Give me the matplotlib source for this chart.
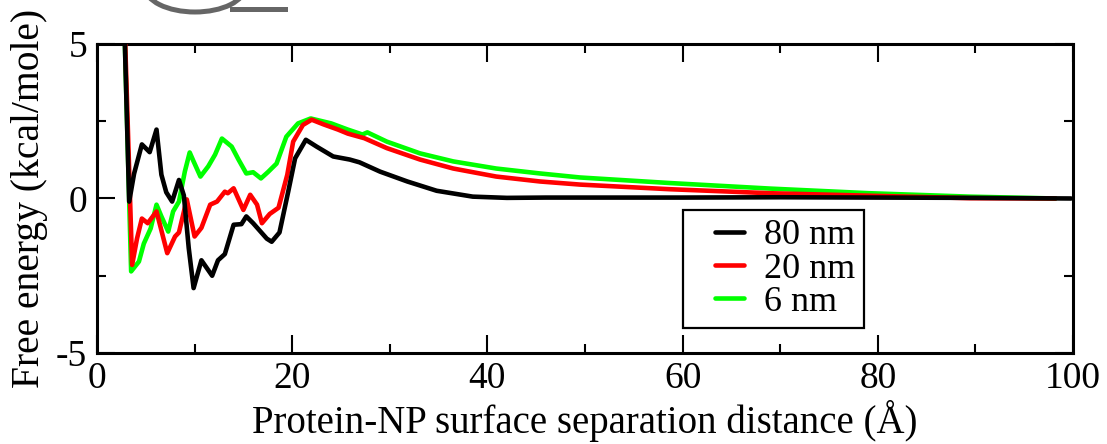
import numpy as np
import matplotlib
matplotlib.use("Agg")
import matplotlib.pyplot as plt
from matplotlib.patches import Arc
from matplotlib.lines import Line2D
from matplotlib.legend_handler import HandlerLine2D
from matplotlib.ticker import MultipleLocator

plt.rcParams['font.family'] = ['Liberation Serif', 'DejaVu Serif']
plt.rcParams['axes.unicode_minus'] = False

# free energy profiles (x in Angstrom, y in kcal/mole)
x_80nm = [2.6, 3.3, 3.8, 4.6, 5.4, 6.1, 6.6, 7.1, 7.7, 8.4, 8.9, 9.4, 9.9, 10.7, 11.8,
          12.4, 13.1, 14.0, 14.8, 15.3, 16.0, 17.4, 17.9, 18.7, 19.6, 20.3, 21.4, 22.5,
          24.2, 25.9, 26.9, 29.0, 31.8, 34.8, 38.5, 42, 46, 50, 60, 70, 80, 90, 99.8]
y_80nm = [8.0, -0.1, 0.8, 1.75, 1.5, 2.23, 0.77, 0.2, -0.1, 0.6, 0.1, -1.6, -2.9, -2.0,
          -2.5, -2.0, -1.8, -0.85, -0.83, -0.58, -0.8, -1.3, -1.4, -1.1, 0.23, 1.3, 1.9,
          1.68, 1.36, 1.26, 1.17, 0.87, 0.55, 0.25, 0.06, 0.02, 0.03, 0.03, 0.03, 0.04,
          0.03, 0.02, 0.0]

x_20nm = [2.6, 3.6, 4.1, 4.6, 5.2, 6.1, 7.2, 8.0, 8.4, 9.2, 10.0, 10.7, 11.6, 12.3, 13.1,
          13.4, 14.0, 15.0, 15.7, 16.4, 16.9, 17.7, 18.6, 19.5, 20.1, 21.1, 22.0, 23.2,
          24.7, 25.7, 27.4, 29.7, 33.1, 36.5, 40.9, 45.4, 49.5, 58.7, 69, 79.2, 89.4, 98.2]
y_20nm = [8.0, -2.15, -1.3, -0.65, -0.8, -0.42, -1.77, -1.23, -1.1, -0.03, -1.23, -0.95,
          -0.2, -0.1, 0.22, 0.17, 0.33, -0.37, 0.12, -0.2, -0.8, -0.5, -0.3, 0.77, 1.84,
          2.38, 2.55, 2.4, 2.23, 2.1, 1.95, 1.63, 1.26, 0.97, 0.71, 0.55, 0.45, 0.3, 0.17,
          0.09, 0.01, 0.0]

x_6nm = [2.6, 3.5, 4.3, 4.8, 5.5, 6.1, 6.6, 7.3, 7.8, 8.4, 9.0, 9.5, 9.9, 10.6, 11.4,
         12.1, 12.8, 13.8, 14.5, 15.3, 16.0, 16.8, 17.5, 18.4, 19.4, 20.6, 21.9, 24.0,
         25.7, 27.2, 27.7, 29.7, 33.1, 36.5, 40.9, 45.4, 49.5, 58.7, 69, 79.2, 89.4, 98.2]
y_6nm = [8.0, -2.36, -2.04, -1.46, -0.97, -0.2, -0.58, -1.07, -0.42, -0.1, 0.87, 1.49,
         1.2, 0.71, 1.04, 1.42, 1.94, 1.68, 1.26, 0.81, 0.85, 0.65, 0.85, 1.13, 2.0, 2.43,
         2.59, 2.43, 2.23, 2.07, 2.14, 1.84, 1.46, 1.2, 0.97, 0.81, 0.68, 0.5, 0.32, 0.17,
         0.06, 0.0]

labels = ['80 nm', '20 nm', '6 nm']
colors = ['black', '#ff0000', '#00ff00']

fig = plt.figure(figsize=(11.07, 4.44), dpi=100)
ax = fig.add_axes([0.0876, 0.2050, 0.8817, 0.6959])

lw = 3.3
kw = dict(lw=lw, solid_joinstyle='round', solid_capstyle='round')
h6, = ax.plot(x_6nm, y_6nm, color=colors[2], zorder=2, **kw)
h20, = ax.plot(x_20nm, y_20nm, color=colors[1], zorder=3, **kw)
h80, = ax.plot(x_80nm, y_80nm, color=colors[0], zorder=4, **kw)

ax.set_xlim(0, 100)
ax.set_ylim(-5, 5)
ax.xaxis.set_major_locator(MultipleLocator(20))
ax.xaxis.set_minor_locator(MultipleLocator(10))
ax.yaxis.set_major_locator(MultipleLocator(5))
ax.yaxis.set_minor_locator(MultipleLocator(2.5))
ax.tick_params(which='both', direction='in', top=True, right=True, width=1.5,
               labelsize=27)
ax.tick_params(which='major', length=13)
ax.tick_params(which='minor', length=6.5)
ax.tick_params(axis='x', pad=6)
ax.tick_params(axis='y', pad=7)
for s in ax.spines.values():
    s.set_linewidth(2.2)

ax.set_xlabel('Protein-NP surface separation distance (Å)', fontsize=28, labelpad=3)
ax.set_ylabel('Free energy (kcal/mole)', fontsize=28.5, labelpad=6)

hmap = {h: HandlerLine2D(xpad=0.65) for h in (h80, h20, h6)}
leg = ax.legend([h80, h20, h6], labels, loc='upper left', handler_map=hmap,
                bbox_to_anchor=(0.600, 0.463), fontsize=26, frameon=True,
                fancybox=False, framealpha=1, handlelength=1.45, handletextpad=0.55,
                labelspacing=0.0, borderpad=0.25, borderaxespad=0)
leg.get_frame().set_edgecolor('black')
leg.get_frame().set_linewidth(1.6)

# grey fragment of a glyph cut off at the top edge
fig.add_artist(Arc((195 / 1107, 1 + 13 / 444), 100 / 1107, 50 / 444,
                   theta1=180, theta2=360, transform=fig.transFigure,
                   color='#666666', lw=3.6))
fig.add_artist(Line2D([232 / 1107, 285 / 1107], [1 - 9.5 / 444, 1 - 9.5 / 444],
                      transform=fig.transFigure, color='#666666', lw=3.6))

fig.savefig('out.png', dpi=100)
